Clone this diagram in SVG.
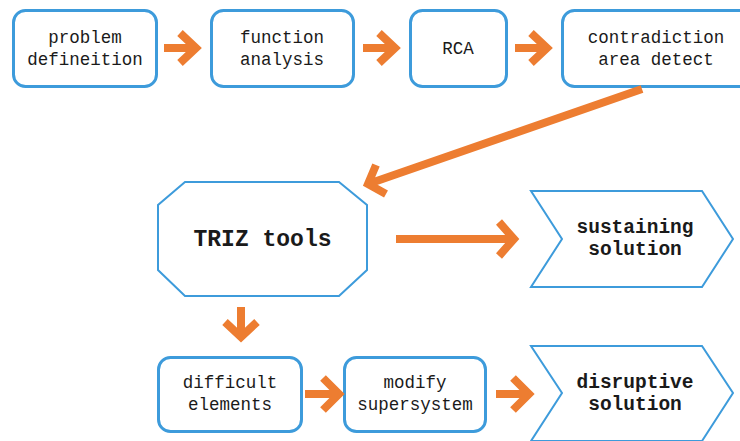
<svg xmlns="http://www.w3.org/2000/svg" width="740" height="441" viewBox="0 0 740 441">
<style>
.box{fill:#fff;stroke:#3D9BDB;stroke-width:3}
.shp{fill:#fff;stroke:#3D9BDB;stroke-width:2}
.t{font-family:"Liberation Mono","DejaVu Sans Mono",monospace;font-size:17.5px;fill:#1a1a1a;text-anchor:middle}
.b{font-weight:bold;font-size:19.5px}
.arr{fill:none;stroke:#ED7D31;stroke-width:8;stroke-linejoin:miter;stroke-miterlimit:10}
</style>
<rect width="740" height="441" fill="#fff"/>
<g id="n1"><rect class="box" x="13.5" y="10.5" width="143" height="76" rx="12"/><text class="t" x="85" y="43">problem</text><text class="t" x="85" y="65">defineition</text></g>
<g id="n2"><rect class="box" x="211.5" y="10.5" width="142" height="76" rx="12"/><text class="t" x="282" y="43">function</text><text class="t" x="282" y="65">analysis</text></g>
<g id="n3"><rect class="box" x="410.5" y="10.5" width="96" height="76" rx="12"/><text class="t" x="458" y="54">RCA</text></g>
<g id="n4"><rect class="box" x="562.5" y="10.5" width="190" height="76" rx="12"/><text class="t" x="656" y="43">contradiction</text><text class="t" x="656" y="65">area detect</text></g>
<g id="n5"><polygon class="shp" points="185,182 339,182 367,205 367,270 339,296 185,296 158,270 158,205"/><text class="t b" x="262.5" y="246" style="font-size:23px">TRIZ tools</text></g>
<g id="n6"><polygon class="shp" points="531,191 702,191 733,239 702,287 531,287 562,239"/><text class="t b" x="635" y="233">sustaining</text><text class="t b" x="635" y="255">solution</text></g>
<g id="n7"><rect class="box" x="158.5" y="357.5" width="143" height="74" rx="12"/><text class="t" x="230" y="388">difficult</text><text class="t" x="230" y="410">elements</text></g>
<g id="n8"><rect class="box" x="344.5" y="357.5" width="141" height="74" rx="12"/><text class="t" x="415" y="388">modify</text><text class="t" x="415" y="410">supersystem</text></g>
<g id="n9"><polygon class="shp" points="531,346 702,346 733,393 702,441 531,441 562,393"/><text class="t b" x="635" y="388">disruptive</text><text class="t b" x="635" y="410">solution</text></g>
<g id="connectors">
<path class="arr" d="M164,48 H196 M180,33 L196,48 L180,63"/>
<path class="arr" d="M363,48 H395 M379,33 L395,48 L379,63"/>
<path class="arr" d="M515,48 H547 M531,33 L547,48 L531,63"/>
<path class="arr" d="M642,89 L368,184 M376,165 L368,184 L386,194"/>
<path class="arr" d="M396,239 H514 M499,222 L514,239 L499,256"/>
<path class="arr" d="M241,307 V337 M225,322 L241,337 L257,322"/>
<path class="arr" d="M305,394 H339 M323,378 L339,394 L323,410"/>
<path class="arr" d="M496,394 H529 M513,378 L529,394 L513,410"/>
</g>
</svg>
